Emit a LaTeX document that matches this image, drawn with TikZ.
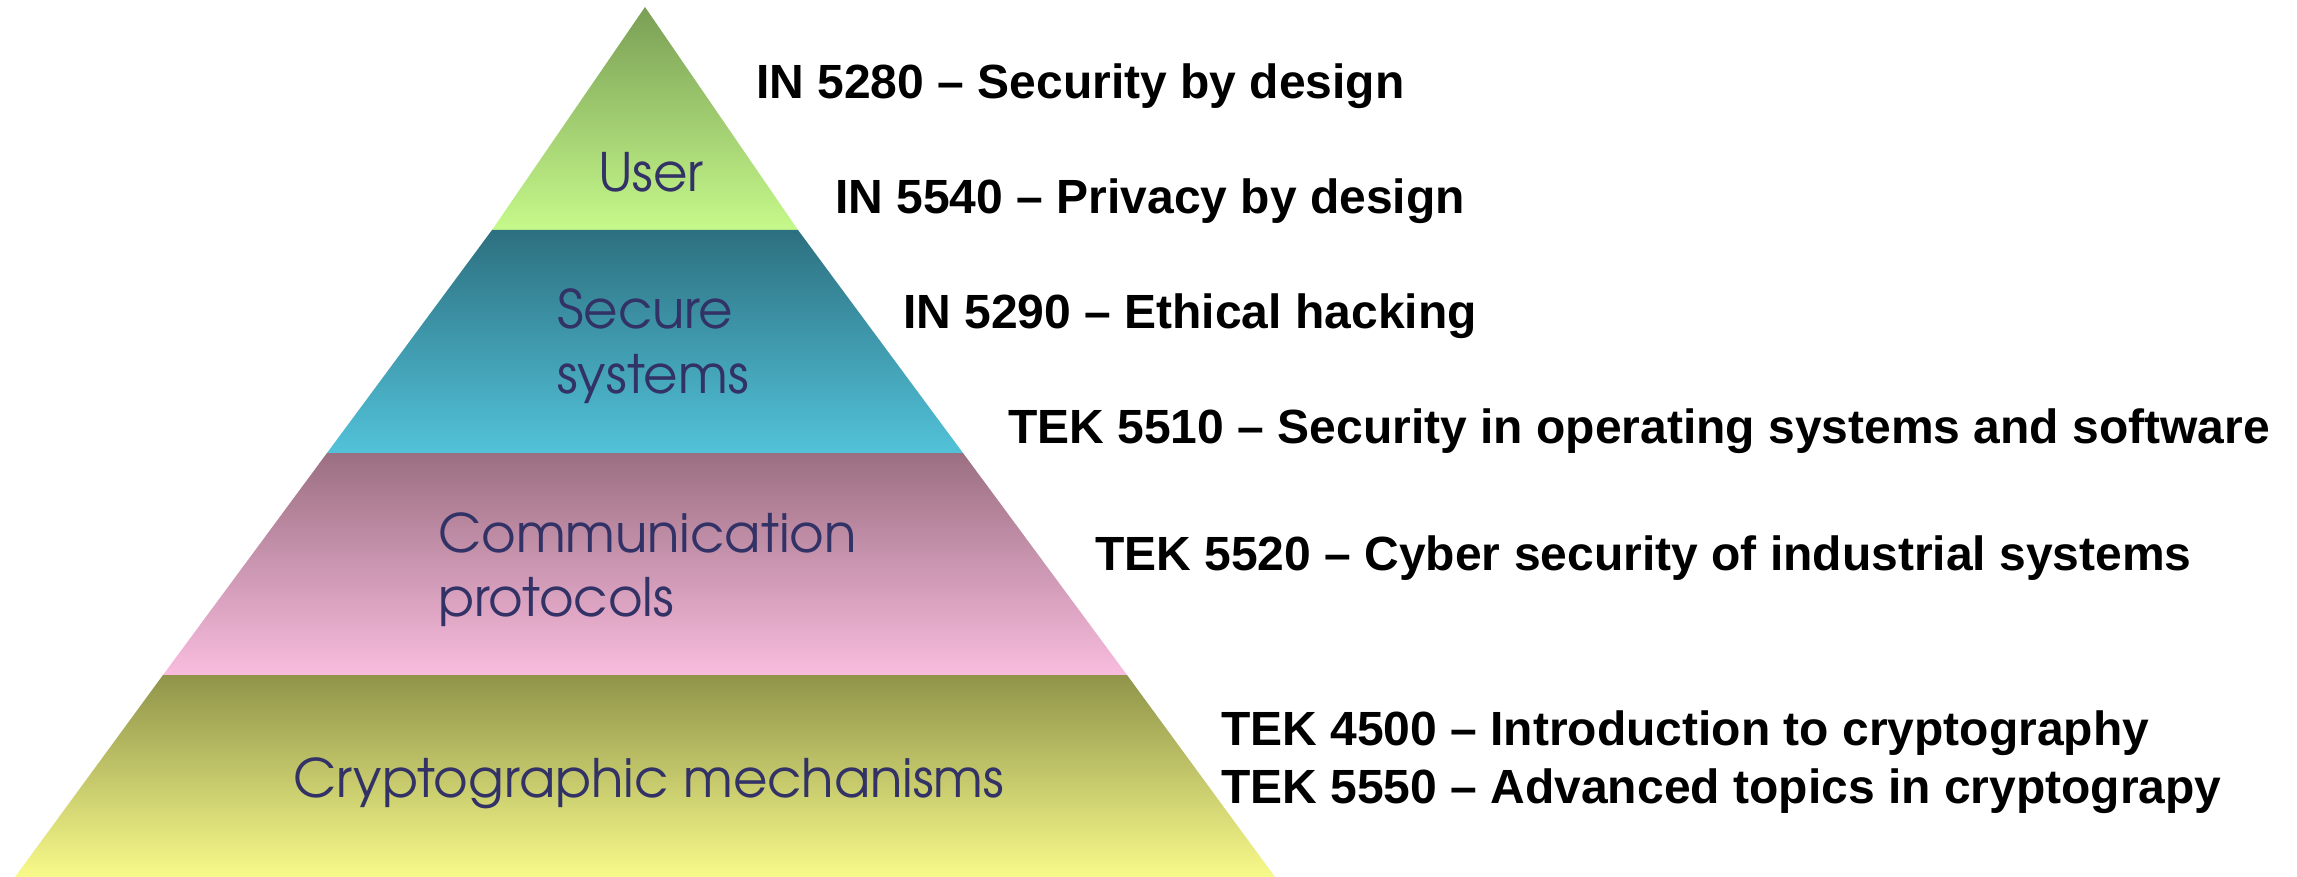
\documentclass[tikz,border=0pt]{standalone}
\usepackage{fontspec}
\setmainfont{Liberation Sans}
\newfontfamily\labfont{TeX Gyre Adventor}
\definecolor{labcol}{RGB}{50,50,102}
\definecolor{uTop}{RGB}{122,159,85}
\definecolor{uBot}{RGB}{198,249,139}
\definecolor{sTop}{RGB}{45,112,128}
\definecolor{sBot}{RGB}{82,194,217}
\definecolor{cTop}{RGB}{155,111,130}
\definecolor{cBot}{RGB}{249,188,222}
\definecolor{kTop}{RGB}{143,148,74}
\definecolor{kBot}{RGB}{248,250,138}
\tikzset{
  layerlab/.style={font=\labfont\fontsize{53}{60}\selectfont, text=labcol, inner sep=0pt, anchor=base west},
  course/.style={font=\bfseries\fontsize{48}{54}\selectfont, text=black, inner sep=0pt, anchor=base west}
}
\begin{document}
\begin{tikzpicture}[x=1pt,y=-1pt]
\useasboundingbox (0,0) rectangle (2297,877);
% corners
\coordinate (apex) at (645,7);
\coordinate (a1) at (492,230); \coordinate (b1) at (798,230);
\coordinate (a2) at (327,453); \coordinate (b2) at (963,453);
\coordinate (a3) at (163,675); \coordinate (b3) at (1127,675);
\coordinate (a4) at (15,877);  \coordinate (b4) at (1275,877);
% layers
\shade[top color=uTop, bottom color=uBot] (apex) -- (b1) -- (a1) -- cycle;
\shade[top color=sTop, bottom color=sBot] (a1) -- (b1) -- (b2) -- (a2) -- cycle;
\shade[top color=cTop, bottom color=cBot] (a2) -- (b2) -- (b3) -- (a3) -- cycle;
\shade[top color=kTop, bottom color=kBot] (a3) -- (b3) -- (b4) -- (a4) -- cycle;
% layer labels
\node[layerlab, anchor=base] (user) at (651,192) {User};
\node[layerlab] (sec1) at (557,329) {Secure};
\node[layerlab] (sec2) at (557,393) {systems};
\node[layerlab] (com1) at (438,552) {Communication};
\node[layerlab] (com2) at (438,616) {protocols};
\node[layerlab] (cry) at (293,797) {Cryptographic mechanisms};
% courses
\node[course] (c1) at (756,99) {IN 5280 – Security by design};
\node[course] (c2) at (835,214) {IN 5540 – Privacy by design};
\node[course] (c3) at (903,328) {IN 5290 – Ethical hacking};
\node[course] (c4) at (1008,443) {TEK 5510 – Security in operating systems and software};
\node[course] (c5) at (1095,570) {TEK 5520 – Cyber security of industrial systems};
\node[course] (c6) at (1221,745) {TEK 4500 – Introduction to cryptography};
\node[course] (c7) at (1221,803) {TEK 5550 – Advanced topics in cryptograpy};
\end{tikzpicture}
\end{document}
